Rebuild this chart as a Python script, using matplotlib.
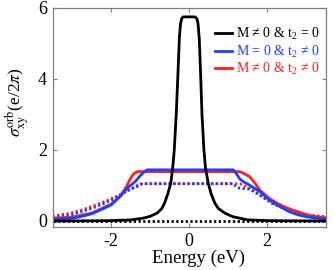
import matplotlib
matplotlib.use("Agg")
import matplotlib.pyplot as plt
from matplotlib.lines import Line2D

plt.rcParams['font.family'] = ['Liberation Serif', 'DejaVu Serif']
plt.rcParams['mathtext.fontset'] = 'custom'
plt.rcParams['mathtext.rm'] = 'Liberation Serif'
plt.rcParams['mathtext.it'] = 'Liberation Serif:italic'
plt.rcParams['mathtext.bf'] = 'Liberation Serif:bold'

# ---- data ----
E_black = [-3.5, -2.5, -2.0, -1.5, -1.17, -1.0, -0.82, -0.7, -0.63, -0.55, -0.47, -0.42, -0.38,
           -0.33, -0.28, -0.25, -0.22, -0.19, -0.15, 0.0, 0.15, 0.2, 0.23, 0.26, 0.29, 0.33,
           0.38, 0.42, 0.49, 0.57, 0.66, 0.75, 0.92, 1.12, 1.5, 2.0, 2.5, 3.5]
v_black = [0.0, 0.005, 0.01, 0.03, 0.08, 0.13, 0.22, 0.35, 0.5, 0.75, 1.06, 1.5, 2.0,
           3.0, 4.3, 5.15, 5.55, 5.7, 5.75, 5.75, 5.75, 5.7, 5.55, 5.15, 4.3, 3.0,
           2.0, 1.5, 1.06, 0.75, 0.5, 0.35, 0.22, 0.12, 0.03, 0.01, 0.005, 0.0]

E_black_dot = [-3.5, 3.5]
v_black_dot = [0.0, 0.0]

E_blue = [-3.5, -3.0, -2.78, -2.5, -2.27, -2.0, -1.76, -1.59, -1.38, -1.25, -1.15, -1.08,
          1.13, 1.2, 1.3, 1.4, 1.55, 1.81, 2.06, 2.3, 2.57, 2.8, 3.0, 3.25, 3.5]
v_blue = [0.05, 0.08, 0.12, 0.2, 0.31, 0.45, 0.70, 0.92, 1.11, 1.28, 1.38, 1.44,
          1.44, 1.35, 1.18, 1.1, 1.01, 0.83, 0.59, 0.42, 0.26, 0.17, 0.12, 0.08, 0.06]

E_red = [-3.5, -3.0, -2.5, -2.0, -1.76, -1.6, -1.5, -1.42, -1.33,
         1.30, 1.4, 1.55, 1.7, 1.81, 2.06, 2.3, 2.57, 2.8, 3.0, 3.25, 3.5]
v_red = [0.08, 0.11, 0.22, 0.47, 0.70, 0.98, 1.2, 1.33, 1.39,
         1.39, 1.34, 1.25, 1.05, 0.87, 0.63, 0.47, 0.34, 0.25, 0.18, 0.12, 0.09]

E_red_dot = [-3.5, -3.03, -2.69, -2.52, -2.18, -1.84, -1.5, -1.33, -1.2,
             1.3, 1.4, 1.55, 1.81, 2.15, 2.57, 3.0, 3.5]
v_red_dot = [0.14, 0.22, 0.33, 0.4, 0.54, 0.70, 0.89, 1.0, 1.05,
             1.05, 1.0, 0.92, 0.73, 0.5, 0.33, 0.17, 0.12]

E_blue_dot = [-3.5, -3.0, -2.5, -2.0, -1.7, -1.5, -1.42, -1.33, -1.25, -1.15,
              1.1, 1.2, 1.3, 1.55, 1.81, 2.15, 2.57, 3.0, 3.5]
v_blue_dot = [0.1, 0.18, 0.35, 0.58, 0.78, 0.9, 0.93, 0.97, 1.03, 1.05,
              1.05, 0.98, 0.92, 0.9, 0.73, 0.48, 0.3, 0.15, 0.1]

labels = ["M \u2260 0 & t$_{2}$ = 0", "M = 0 & t$_{2}$ \u2260 0", "M \u2260 0 & t$_{2}$ \u2260 0"]
xticks = [-2, 0, 2]
yticks = [0, 2, 4, 6]

BLACK = '#000000'
BLUE = '#1f3fff'
RED = '#ff2020'

fig = plt.figure(figsize=(3.33, 2.70), dpi=100)
ax = fig.add_axes([52.5/333, 1-227/270, (325.7-52.5)/333, (227-8)/270])

lw = 2.0
dot = (0, (0.8, 0.9))
ax.plot(E_red_dot, v_red_dot, color=RED, lw=lw, ls=dot)
ax.plot(E_blue_dot, v_blue_dot, color=BLUE, lw=lw, ls=dot)
ax.plot(E_red, v_red, color=RED, lw=lw)
ax.plot(E_blue, v_blue, color=BLUE, lw=lw)
ax.plot(E_black_dot, v_black_dot, color=BLACK, lw=lw, ls=dot)
ax.plot(E_black, v_black, color=BLACK, lw=lw)

ax.set_xlim(-3.5, 3.5)
ax.set_ylim(-0.17, 6.0)
ax.set_xticks(xticks)
ax.set_yticks(yticks)
ax.set_xticklabels([str(t) for t in xticks])
ax.set_yticklabels([str(t) for t in yticks])

for s in ax.spines.values():
    s.set_color('#7f7f7f')
    s.set_linewidth(0.9)
ax.tick_params(direction='in', length=3, width=0.8, color='#7f7f7f',
               top=True, right=True, labelsize=13, pad=4)

ax.set_xlabel('Energy (eV)', fontsize=13.5)
ax.xaxis.set_label_coords((199-52.5)/273.2, -0.105)
ax.set_ylabel(r'$\sigma_{\rm xy}^{\rm orb}$(e/2$\pi$)', fontsize=12.5,
              math_fontfamily='stix')
ax.yaxis.set_label_coords((31-52.5)/273.2, (227-102)/219)

handles = [Line2D([], [], color=c, lw=lw) for c in (BLACK, BLUE, RED)]
leg = ax.legend(handles, labels, loc='upper left',
                bbox_to_anchor=((215-52.5)/273.2, (227-26)/219),
                frameon=False, fontsize=10, handlelength=1.2, handletextpad=0.3,
                labelspacing=0.1, borderpad=0, borderaxespad=0)
for t, c in zip(leg.get_texts(), (BLACK, BLUE, RED)):
    t.set_color(c)

fig.savefig('out.png', dpi=100)
